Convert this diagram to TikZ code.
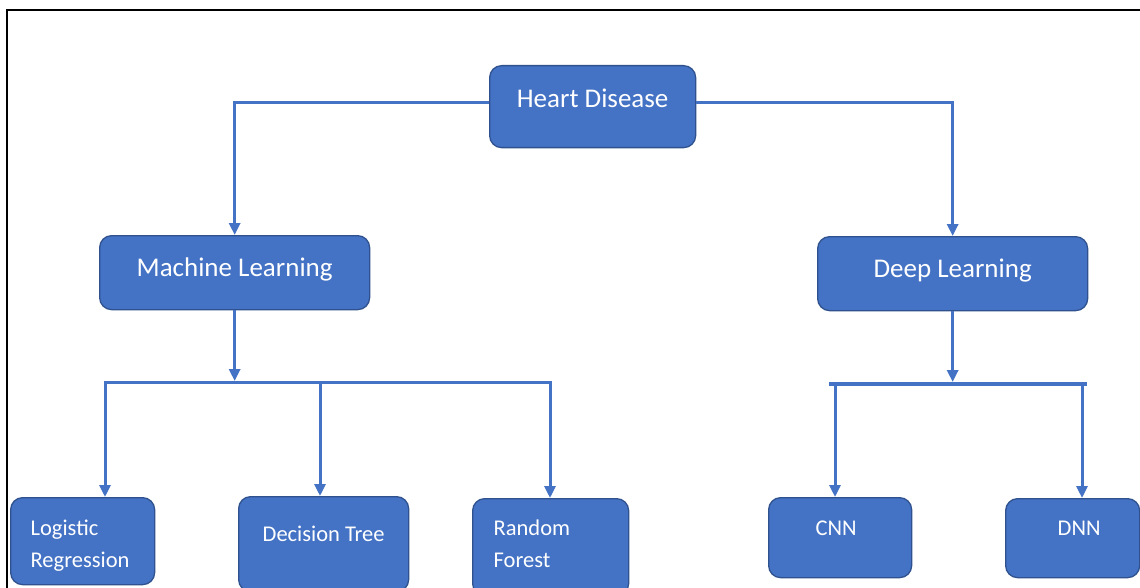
\documentclass[tikz,border=0pt]{standalone}
\usepackage{fontspec}
\setmainfont{Carlito}
\usetikzlibrary{arrows.meta}
\definecolor{boxblue}{HTML}{4472C4}
\definecolor{boxedge}{HTML}{2F528F}
\newcommand\boxtext[3]{\makebox[#1pt][l]{\hspace*{#2pt}\begin{tabular}[t]{@{}l@{}}#3\end{tabular}}}
\begin{document}
\begin{tikzpicture}[x=1pt,y=-1pt,
  box/.style={draw=boxedge, line width=1.3pt, fill=boxblue, rounded corners=12pt, text=white, inner sep=0pt, anchor=north west},
  big/.style={font=\fontsize{27}{32}\selectfont},
  small/.style={font=\fontsize{22.5}{32}\selectfont},
  conn/.style={draw=boxblue, line width=3pt},
  arr/.style={conn, -{Triangle[length=12pt,width=11pt]}}]
\useasboundingbox (0,0) rectangle (1140,588);
\clip (0,0) rectangle (1140,588);
\fill[white] (0,0) rectangle (1140,588);
\draw[line width=2pt] (7,10) rectangle (1170,620);

\node[box,big,minimum width=206pt,text height=42pt,text depth=40pt] (hd) at (489,65) {Heart Disease};
\node[box,big,minimum width=270pt,text height=41pt,text depth=33pt] (ml) at (99,235) {Machine Learning};
\node[box,big,minimum width=270pt,text height=41pt,text depth=33pt] (dl) at (817,236) {Deep Learning};

\node[box,small,minimum width=144pt,text height=38pt,text depth=49pt] (lr) at (10,497) {\boxtext{144}{20}{Logistic\\Regression}};
\node[box,small,minimum width=170pt,text height=45pt,text depth=50pt] (dt) at (238,496) {Decision Tree};
\node[box,small,minimum width=156pt,text height=37pt,text depth=60pt] (rf) at (472,498) {\boxtext{156}{21}{Random\\Forest}};
\node[box,small,minimum width=143pt,text height=38pt,text depth=42pt] (cnn) at (768,497) {\boxtext{143}{47}{CNN}};
\node[box,small,minimum width=134pt,text height=37pt,text depth=42pt] (dnn) at (1005,498) {\boxtext{134}{52}{DNN}};

\draw[arr] ([yshift=4pt]hd.west) -| (ml.north);
\draw[arr] ([yshift=4pt]hd.east) -| (dl.north);

\coordinate (mlbar) at (233,381);
\coordinate (mlL) at (105,382);
\coordinate (mlM) at (320,382);
\coordinate (mlR) at (550,382);
\draw[arr] (ml.south) -- (ml.south |- mlbar);
\draw[conn, line cap=rect] (mlL) -- (mlR);
\draw[arr] (mlL) -- (mlL |- lr.north);
\draw[arr] (mlM) -- (mlM |- dt.north);
\draw[arr] (mlR) -- (mlR |- rf.north);

\coordinate (dlbar) at (952,382);
\coordinate (dlL) at (829,384);
\coordinate (dlR) at (1087,384);
\coordinate (dlA) at (835,384);
\coordinate (dlB) at (1082,384);
\draw[arr] (dl.south) -- (dl.south |- dlbar);
\draw[conn, line width=4pt] (dlL) -- (dlR);
\draw[arr] (dlA) -- (dlA |- cnn.north);
\draw[arr] (dlB) -- (dlB |- dnn.north);
\end{tikzpicture}
\end{document}
